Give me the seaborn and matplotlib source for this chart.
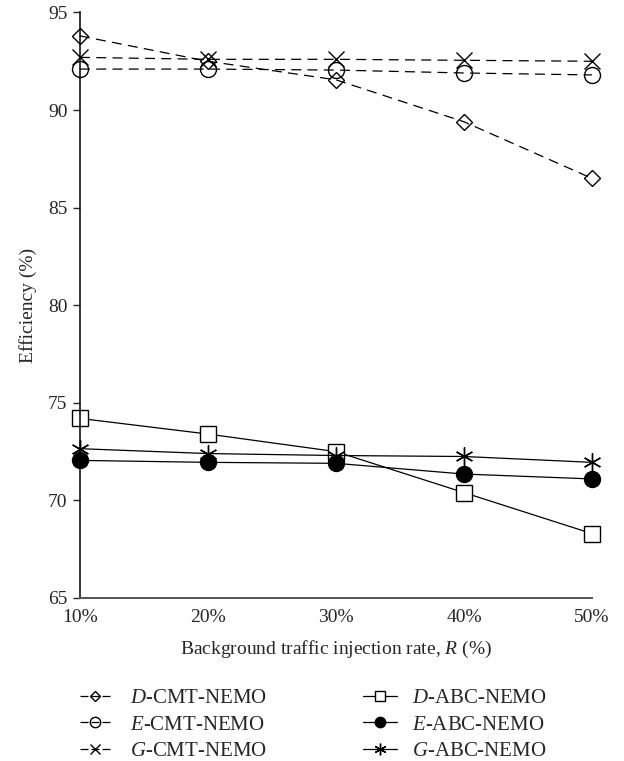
import matplotlib
matplotlib.use("Agg")
import matplotlib.pyplot as plt
from matplotlib.lines import Line2D
import seaborn as sns
import numpy as np

# Background traffic injection rates (x categories)
rates = ["10%", "20%", "30%", "40%", "50%"]

# Efficiency (%) per scheme
d_cmt = [93.8, 92.5, 91.55, 89.4, 86.5]
e_cmt = [92.1, 92.1, 92.05, 91.9, 91.8]
g_cmt = [92.7, 92.6, 92.6, 92.55, 92.5]
d_abc = [74.2, 73.4, 72.5, 70.4, 68.3]
e_abc = [72.05, 71.95, 71.9, 71.35, 71.1]
g_abc = [72.65, 72.4, 72.3, 72.25, 71.95]

sns.set_theme(style="ticks")
plt.rcParams["font.family"] = ["Liberation Serif", "DejaVu Serif"]
plt.rcParams["mathtext.fontset"] = "custom"
plt.rcParams["mathtext.rm"] = "Liberation Serif"
plt.rcParams["mathtext.it"] = "Liberation Serif:italic"

fig = plt.figure(figsize=(6.24, 7.61), dpi=100)
ax = fig.add_axes([0.1282, 0.2142, 0.8205, 0.7694])

xpos = np.arange(len(rates))
FS = 14
LW = 0.9

series = [
    (d_cmt, r"$\mathit{D}$-CMT-NEMO", dict(marker="D", markersize=8.5, markerfacecolor="none"), (8, 5)),
    (e_cmt, r"$\mathit{E}$-CMT-NEMO", dict(marker="o", markersize=11.5, markerfacecolor="none"), (8, 5)),
    (g_cmt, r"$\mathit{G}$-CMT-NEMO", dict(marker="x", markersize=11.5), (8, 5)),
    (d_abc, r"$\mathit{D}$-ABC-NEMO", dict(marker="s", markersize=11.5, markerfacecolor="white"), None),
    (e_abc, r"$\mathit{E}$-ABC-NEMO", dict(marker="o", markersize=11.5, markerfacecolor="black"), None),
    (g_abc, r"$\mathit{G}$-ABC-NEMO", dict(marker=(6, 2, 0), markersize=13), None),
]

legend_handles = []
labels = []
for vals, label, mk, dash in series:
    sns.lineplot(x=xpos, y=vals, ax=ax, color="black", linewidth=LW,
                 markeredgecolor="black", markeredgewidth=1.0,
                 clip_on=False, legend=False, **mk)
    line = ax.lines[-1]
    if dash is not None:
        line.set_dashes(dash)
    # compact key for the legend: smaller marker, short dashes
    key = dict(mk)
    key["markersize"] = mk["markersize"] * 0.65
    h = Line2D([], [], color="black", linewidth=LW, markeredgecolor="black",
               markeredgewidth=1.0, **key)
    if dash is not None:
        h.set_dashes((6.4, 2.4))
    legend_handles.append(h)
    labels.append(label)

ax.set_xlim(0, 4)
ax.set_ylim(65, 95)
ax.set_xticks(xpos)
ax.set_xticklabels(rates)
ax.set_yticks([65, 70, 75, 80, 85, 90, 95])
ax.tick_params(axis="x", length=0, pad=8, labelsize=FS)
ax.tick_params(axis="y", length=5, width=1.0, pad=4, labelsize=FS, direction="out")
for s in ["top", "right"]:
    ax.spines[s].set_visible(False)
ax.spines["left"].set_linewidth(1.1)
ax.spines["left"].set_color("black")
ax.spines["bottom"].set_linewidth(1.4)
ax.spines["bottom"].set_color("#555555")

ax.set_xlabel(r"Background traffic injection rate, $\mathit{R}$ (%)", fontsize=FS, labelpad=9)
ax.set_ylabel("Efficiency (%)", fontsize=FS, labelpad=8)

LFS = 15
common = dict(frameon=False, fontsize=LFS, labelspacing=0.34, borderpad=0,
              borderaxespad=0, loc="upper left")
fig.legend(legend_handles[:3], labels[:3], handlelength=1.44, handletextpad=0.96,
           bbox_to_anchor=(80 / 624, 1 - 688.5 / 761), **common)
fig.legend(legend_handles[3:], labels[3:], handlelength=1.63, handletextpad=0.72,
           bbox_to_anchor=(363 / 624, 1 - 688.5 / 761), **common)

fig.savefig("out.png", dpi=100)
